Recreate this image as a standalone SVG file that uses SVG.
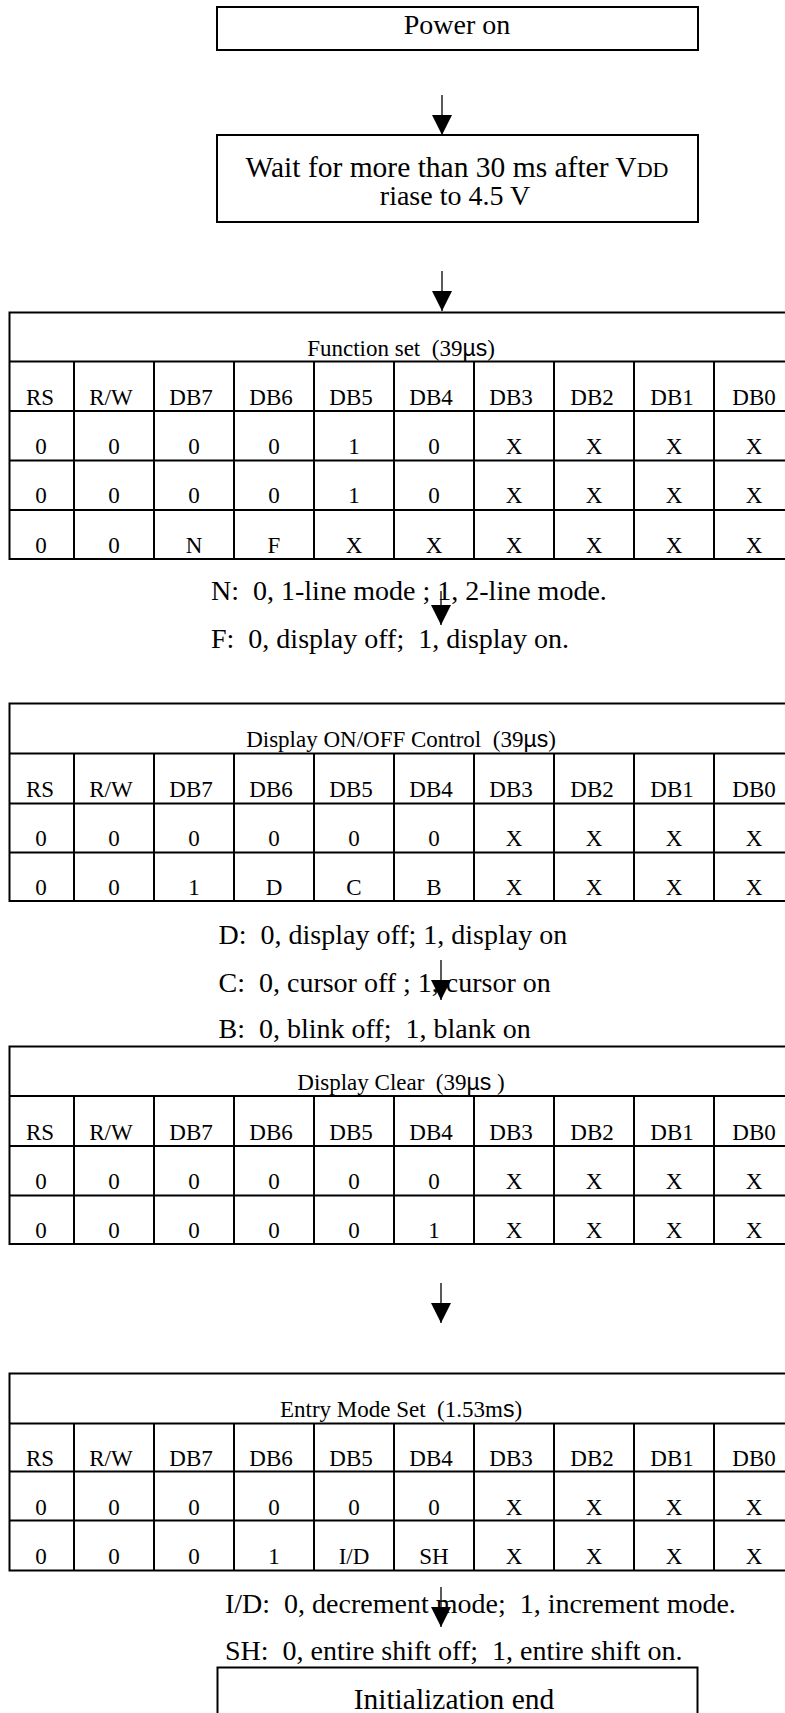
<svg xmlns="http://www.w3.org/2000/svg" width="785" height="1713" viewBox="0 0 785 1713">
<style>
text { font-family: "Liberation Serif", "Times New Roman", serif; fill: #000; }
.big { font-size: 28px; }
.bigger { font-size: 29.5px; }
.mid { text-anchor: middle; }
.tb { font-size: 23px; text-anchor: middle; }
.s { font-family: "Liberation Sans", Arial, sans-serif; }
.sc { font-size: 22px; }
.box { fill: none; stroke: #000; stroke-width: 2; }
.grid { fill: none; stroke: #000; stroke-width: 2; }
.conn { stroke: #000; stroke-width: 1.3; fill: none; marker-end: url(#ah); }
</style>
<defs>
<marker id="ah" markerUnits="userSpaceOnUse" markerWidth="20" markerHeight="20" refX="20" refY="10" orient="auto" viewBox="0 0 20 20">
<path d="M0 0 L20 10 L0 20 Z" fill="#000"/>
</marker>
</defs>
<rect width="785" height="1713" fill="#fff"/>

<g id="connectors">
<line class="conn" x1="442" y1="95" x2="442" y2="135"/>
<line class="conn" x1="442" y1="271" x2="442" y2="311"/>
<line class="conn" x1="441" y1="591" x2="441" y2="625"/>
<line class="conn" x1="441" y1="960" x2="441" y2="1000"/>
<line class="conn" x1="441" y1="1283" x2="441" y2="1323"/>
<line class="conn" x1="441" y1="1587" x2="441" y2="1627"/>
</g>

<g id="power-on">
<rect class="box" x="217" y="7" width="481" height="43"/>
<text class="big mid" x="457" y="34">Power on</text>
</g>

<g id="wait">
<rect class="box" x="217" y="135" width="481" height="87"/>
<text class="bigger mid" x="457" y="177">Wait for more than 30 ms after V<tspan class="sc">DD</tspan></text>
<text class="big mid" x="455" y="205">riase to 4.5 V</text>
</g>

<g id="function-set">
<rect class="grid" x="9.5" y="312.5" width="786" height="246.5"/>
<path class="grid" d="M9.5 361.5H795.5M9.5 411H795.5M9.5 460.5H795.5M9.5 510H795.5M74 361.5V559M154 361.5V559M234 361.5V559M314 361.5V559M394 361.5V559M474 361.5V559M554 361.5V559M634 361.5V559M714 361.5V559"/>
<text class="tb" x="401" y="356">Function set&#160; (39<tspan class="s">µs</tspan>)</text>
<text class="tb" x="40" y="405">RS</text><text class="tb" x="111" y="405">R/W</text><text class="tb" x="191" y="405">DB7</text><text class="tb" x="271" y="405">DB6</text><text class="tb" x="351" y="405">DB5</text><text class="tb" x="431" y="405">DB4</text><text class="tb" x="511" y="405">DB3</text><text class="tb" x="592" y="405">DB2</text><text class="tb" x="672" y="405">DB1</text><text class="tb" x="754" y="405">DB0</text>
<text class="tb" x="41" y="453.5">0</text><text class="tb" x="114" y="453.5">0</text><text class="tb" x="194" y="453.5">0</text><text class="tb" x="274" y="453.5">0</text><text class="tb" x="354" y="453.5">1</text><text class="tb" x="434" y="453.5">0</text><text class="tb" x="514" y="453.5">X</text><text class="tb" x="594" y="453.5">X</text><text class="tb" x="674" y="453.5">X</text><text class="tb" x="754" y="453.5">X</text>
<text class="tb" x="41" y="503">0</text><text class="tb" x="114" y="503">0</text><text class="tb" x="194" y="503">0</text><text class="tb" x="274" y="503">0</text><text class="tb" x="354" y="503">1</text><text class="tb" x="434" y="503">0</text><text class="tb" x="514" y="503">X</text><text class="tb" x="594" y="503">X</text><text class="tb" x="674" y="503">X</text><text class="tb" x="754" y="503">X</text>
<text class="tb" x="41" y="552.5">0</text><text class="tb" x="114" y="552.5">0</text><text class="tb" x="194" y="552.5">N</text><text class="tb" x="274" y="552.5">F</text><text class="tb" x="354" y="552.5">X</text><text class="tb" x="434" y="552.5">X</text><text class="tb" x="514" y="552.5">X</text><text class="tb" x="594" y="552.5">X</text><text class="tb" x="674" y="552.5">X</text><text class="tb" x="754" y="552.5">X</text>
</g>

<g id="note-function-set">
<text class="big" x="211" y="600">N:&#160; 0, 1-line mode ; 1, 2-line mode.</text>
<text class="big" x="211" y="648">F:&#160; 0, display off;&#160; 1, display on.</text>
</g>

<g id="display-onoff">
<rect class="grid" x="9.5" y="703.5" width="786" height="197.5"/>
<path class="grid" d="M9.5 753.5H795.5M9.5 803.5H795.5M9.5 852.5H795.5M74 753.5V901M154 753.5V901M234 753.5V901M314 753.5V901M394 753.5V901M474 753.5V901M554 753.5V901M634 753.5V901M714 753.5V901"/>
<text class="tb" x="401" y="747">Display ON/OFF Control&#160; (39<tspan class="s">µs</tspan>)</text>
<text class="tb" x="40" y="797">RS</text><text class="tb" x="111" y="797">R/W</text><text class="tb" x="191" y="797">DB7</text><text class="tb" x="271" y="797">DB6</text><text class="tb" x="351" y="797">DB5</text><text class="tb" x="431" y="797">DB4</text><text class="tb" x="511" y="797">DB3</text><text class="tb" x="592" y="797">DB2</text><text class="tb" x="672" y="797">DB1</text><text class="tb" x="754" y="797">DB0</text>
<text class="tb" x="41" y="846">0</text><text class="tb" x="114" y="846">0</text><text class="tb" x="194" y="846">0</text><text class="tb" x="274" y="846">0</text><text class="tb" x="354" y="846">0</text><text class="tb" x="434" y="846">0</text><text class="tb" x="514" y="846">X</text><text class="tb" x="594" y="846">X</text><text class="tb" x="674" y="846">X</text><text class="tb" x="754" y="846">X</text>
<text class="tb" x="41" y="895">0</text><text class="tb" x="114" y="895">0</text><text class="tb" x="194" y="895">1</text><text class="tb" x="274" y="895">D</text><text class="tb" x="354" y="895">C</text><text class="tb" x="434" y="895">B</text><text class="tb" x="514" y="895">X</text><text class="tb" x="594" y="895">X</text><text class="tb" x="674" y="895">X</text><text class="tb" x="754" y="895">X</text>
</g>

<g id="note-display-onoff">
<text class="big" x="218.5" y="943.5">D:&#160; 0, display off; 1, display on</text>
<text class="big" x="218.5" y="991.5">C:&#160; 0, cursor off ; 1, cursor on</text>
<text class="big" x="218.5" y="1038">B:&#160; 0, blink off;&#160; 1, blank on</text>
</g>

<g id="display-clear">
<rect class="grid" x="9.5" y="1046.5" width="786" height="197.5"/>
<path class="grid" d="M9.5 1096H795.5M9.5 1146H795.5M9.5 1195.5H795.5M74 1096V1244M154 1096V1244M234 1096V1244M314 1096V1244M394 1096V1244M474 1096V1244M554 1096V1244M634 1096V1244M714 1096V1244"/>
<text class="tb" x="401" y="1090">Display Clear&#160; (39<tspan class="s">µs</tspan> )</text>
<text class="tb" x="40" y="1139.5">RS</text><text class="tb" x="111" y="1139.5">R/W</text><text class="tb" x="191" y="1139.5">DB7</text><text class="tb" x="271" y="1139.5">DB6</text><text class="tb" x="351" y="1139.5">DB5</text><text class="tb" x="431" y="1139.5">DB4</text><text class="tb" x="511" y="1139.5">DB3</text><text class="tb" x="592" y="1139.5">DB2</text><text class="tb" x="672" y="1139.5">DB1</text><text class="tb" x="754" y="1139.5">DB0</text>
<text class="tb" x="41" y="1189">0</text><text class="tb" x="114" y="1189">0</text><text class="tb" x="194" y="1189">0</text><text class="tb" x="274" y="1189">0</text><text class="tb" x="354" y="1189">0</text><text class="tb" x="434" y="1189">0</text><text class="tb" x="514" y="1189">X</text><text class="tb" x="594" y="1189">X</text><text class="tb" x="674" y="1189">X</text><text class="tb" x="754" y="1189">X</text>
<text class="tb" x="41" y="1238">0</text><text class="tb" x="114" y="1238">0</text><text class="tb" x="194" y="1238">0</text><text class="tb" x="274" y="1238">0</text><text class="tb" x="354" y="1238">0</text><text class="tb" x="434" y="1238">1</text><text class="tb" x="514" y="1238">X</text><text class="tb" x="594" y="1238">X</text><text class="tb" x="674" y="1238">X</text><text class="tb" x="754" y="1238">X</text>
</g>

<g id="entry-mode-set">
<rect class="grid" x="9.5" y="1373.5" width="786" height="197"/>
<path class="grid" d="M9.5 1423.5H795.5M9.5 1471.5H795.5M9.5 1520.5H795.5M74 1423.5V1570.5M154 1423.5V1570.5M234 1423.5V1570.5M314 1423.5V1570.5M394 1423.5V1570.5M474 1423.5V1570.5M554 1423.5V1570.5M634 1423.5V1570.5M714 1423.5V1570.5"/>
<text class="tb" x="401" y="1416.5">Entry Mode Set&#160; (1.53m<tspan class="s">s</tspan>)</text>
<text class="tb" x="40" y="1465.5">RS</text><text class="tb" x="111" y="1465.5">R/W</text><text class="tb" x="191" y="1465.5">DB7</text><text class="tb" x="271" y="1465.5">DB6</text><text class="tb" x="351" y="1465.5">DB5</text><text class="tb" x="431" y="1465.5">DB4</text><text class="tb" x="511" y="1465.5">DB3</text><text class="tb" x="592" y="1465.5">DB2</text><text class="tb" x="672" y="1465.5">DB1</text><text class="tb" x="754" y="1465.5">DB0</text>
<text class="tb" x="41" y="1514.5">0</text><text class="tb" x="114" y="1514.5">0</text><text class="tb" x="194" y="1514.5">0</text><text class="tb" x="274" y="1514.5">0</text><text class="tb" x="354" y="1514.5">0</text><text class="tb" x="434" y="1514.5">0</text><text class="tb" x="514" y="1514.5">X</text><text class="tb" x="594" y="1514.5">X</text><text class="tb" x="674" y="1514.5">X</text><text class="tb" x="754" y="1514.5">X</text>
<text class="tb" x="41" y="1564">0</text><text class="tb" x="114" y="1564">0</text><text class="tb" x="194" y="1564">0</text><text class="tb" x="274" y="1564">1</text><text class="tb" x="354" y="1564">I/D</text><text class="tb" x="434" y="1564">SH</text><text class="tb" x="514" y="1564">X</text><text class="tb" x="594" y="1564">X</text><text class="tb" x="674" y="1564">X</text><text class="tb" x="754" y="1564">X</text>
</g>

<g id="note-entry-mode-set">
<text class="big" x="225" y="1612.5">I/D:&#160; 0, decrement mode;&#160; 1, increment mode.</text>
<text class="big" x="225" y="1660">SH:&#160; 0, entire shift off;&#160; 1, entire shift on.</text>
</g>

<g id="init-end">
<rect class="box" x="217.5" y="1667.5" width="480" height="60"/>
<text class="bigger mid" x="454" y="1709">Initialization end</text>
</g>
</svg>
